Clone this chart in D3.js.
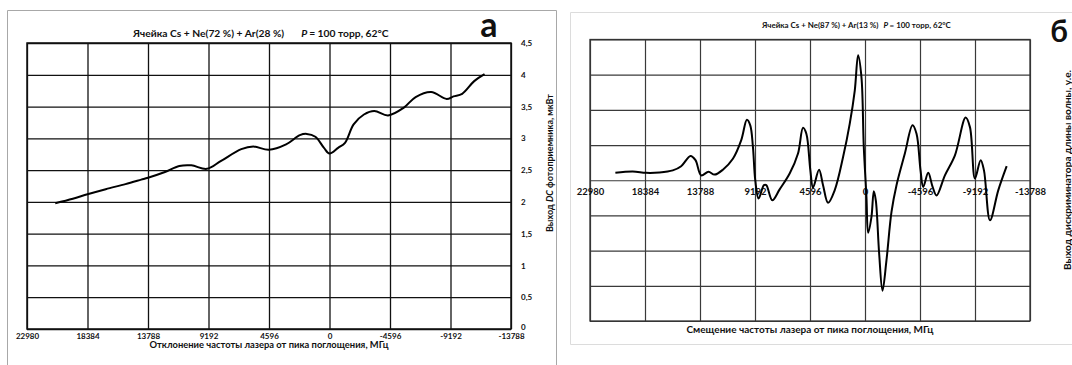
<!DOCTYPE html>
<html><head><meta charset="utf-8">
<script src="https://cdn.jsdelivr.net/npm/d3@7/dist/d3.min.js"></script>
<style>
body{margin:0;background:#fff}
svg{display:block}
text{font-family:Lato,"Open Sans",sans-serif;fill:#111}
</style>
</head><body>
<svg id="c" width="1072" height="365"></svg>
<script>
// ---------- data ----------
const xTickValues = [22980, 18384, 13788, 9192, 4596, 0, -4596, -9192, -13788];
const xTickLabels = ["22980", "18384", "13788", "9192", "4596", "0", "-4596", "-9192", "-13788"];
const yTicksA = [0, 0.5, 1, 1.5, 2, 2.5, 3, 3.5, 4, 4.5];
const yTickLabelsA = ["0", "0,5", "1", "1,5", "2", "2,5", "3", "3,5", "4", "4,5"];
const yGridB = [-4, -3, -2, -1, 0, 1, 2, 3, 4];

// panel а: DC photodetector output, µW
const freqA = [20834, 19500, 18384, 17000, 15500, 14300, 13788, 12500, 11411, 10495, 9318, 8270, 6700, 5784,
  4607, 3298, 2251, 1728, 1073, 419, 0, -654, -1178, -1832, -2617, -3402, -4449, -5627, -6543, -7721,
  -8899, -9422, -10077, -10993, -11778];
const powerA = [1.98, 2.05, 2.12, 2.2, 2.28, 2.35, 2.38, 2.47, 2.565, 2.575, 2.52, 2.64, 2.83, 2.87,
  2.82, 2.905, 3.05, 3.07, 3.025, 2.85, 2.76, 2.85, 2.93, 3.22, 3.375, 3.43, 3.36, 3.48, 3.65, 3.73,
  3.62, 3.66, 3.70, 3.90, 4.01];

// panel б: wavelength discriminator output, arb. units
const freqB = [20860, 19409, 18293, 17177, 16061, 15363, 14582, 14164, 13689, 13075, 12573, 11876, 11039,
  10341, 9867, 9588, 9365, 9170, 8891, 8445, 8250, 7747, 7133, 6296, 5598, 5180, 4901, 4566, 4343, 3841,
  3506, 3087, 2529, 1832, 1274, 855, 576, 297, 102, -121, -261, -540, -735, -903, -1182, -1461, -1795,
  -2214, -2632, -3330, -3971, -4306, -4641, -4864, -5283, -5650, -5980, -6678, -7515, -8408, -8770,
  -9189, -9663, -9942, -10444, -11141, -11839];
const signalB = [0.21, 0.25, 0.21, 0.22, 0.28, 0.40, 0.69, 0.57, 0.14, 0.24, 0.16, 0.30, 0.61,
  1.14, 1.72, 1.56, 0.95, 0.0, -0.52, -0.14, -0.14, -0.57, -0.26, 0.19, 0.76, 1.49, 1.32, 0.28, -0.21, 0.30,
  -0.14, -0.64, -0.28, 0.66, 1.61, 2.55, 3.55, 2.93, 0.95, -0.47, -1.49, -1.04, -0.31, -0.57, -2.08, -3.14, -2.27,
  -0.90, -0.14, 0.76, 1.56, 1.32, 0.28, -0.19, 0.21, -0.19, -0.43, 0.14, 0.71, 1.78, 1.51,
  0.05, 0.57, 0.28, -1.14, -0.28, 0.40];

const titleA1 = "Ячейка Cs + Ne(72 %) + Ar(28 %)";
const titleA2 = "= 100 торр, 62°C";
const titleB1 = "Ячейка Cs + Ne(87 %) + Ar(13 %)";
const titleB2 = "= 100 торр, 62°C";
const xTitleA = "Отклонение частоты лазера от пика поглощения, МГц";
const xTitleB = "Смещение частоты лазера от пика поглощения, МГц";
const yTitleA1 = "Выход ", yTitleA2 = "DC", yTitleA3 = " фотоприемника, мкВт";
const yTitleB = "Выход дискриминатора длины волны, у.е.";

// ---------- drawing ----------
const svg = d3.select("#c");

// two-part title fitted into [x0, x1]
function twoPartTitle(g, x0, x1, y, gap, size, t1, t2) {
  const a = g.append("text").attr("x", x0).attr("y", y).attr("font-weight", 700).attr("font-size", size).text(t1);
  const b = g.append("text").attr("y", y).attr("font-weight", 700).attr("font-size", size);
  b.append("tspan").attr("font-style", "italic").text("P ");
  b.append("tspan").text(t2);
  const total = a.node().getComputedTextLength() + gap + b.node().getComputedTextLength();
  const s = size * (x1 - x0 - gap) / (total - gap);
  a.attr("font-size", s); b.attr("font-size", s);
  b.attr("x", x0 + a.node().getComputedTextLength() + gap);
}

// outer frames
svg.append("path").attr("d", "M7.5,365 V10.5 H556.5 V365").attr("fill", "none").attr("stroke", "#a8a8a8");
svg.append("path").attr("d", "M1072,12.5 H570.5 V344.5 H1072").attr("fill", "none").attr("stroke", "#dcdcdc");

// ===== panel а =====
const A = {l: 27, r: 511, t: 43, b: 329};
const xA = d3.scaleLinear().domain([22980, -13788]).range([A.l, A.r]);
const yA = d3.scaleLinear().domain([0, 4.5]).range([A.b, A.t]);

const gA = svg.append("g");
const axA = gA.append("g").attr("transform", `translate(0,${A.b})`)
  .call(d3.axisBottom(xA).tickValues(xTickValues).tickSize(-(A.b - A.t)).tickPadding(4)
    .tickFormat((d, i) => xTickLabels[i]));
const ayA = gA.append("g").attr("transform", `translate(${A.r},0)`)
  .call(d3.axisRight(yA).tickValues(yTicksA).tickSize(-(A.r - A.l)).tickPadding(10)
    .tickFormat((d, i) => yTickLabelsA[i]));
[axA, ayA].forEach(g => {
  g.select(".domain").remove();
  g.selectAll("line").attr("stroke", "#111").attr("stroke-width", 1.3);
  g.selectAll("text").attr("font-size", 8).attr("font-weight", 700).attr("fill", "#111");
});
ayA.selectAll("text").attr("text-anchor", "start");
ayA.selectAll(".tick").filter(d => d === 0).select("text").attr("dy", "0.1em");
gA.append("rect").attr("x", A.l).attr("y", A.t).attr("width", A.r - A.l).attr("height", A.b - A.t)
  .attr("fill", "none").attr("stroke", "#111").attr("stroke-width", 1.5);

const lineA = d3.line().x((d, i) => xA(freqA[i])).y(d => yA(d)).curve(d3.curveCatmullRom.alpha(0.5));
gA.append("path").attr("d", lineA(powerA)).attr("fill", "none").attr("stroke", "#000").attr("stroke-width", 2);

twoPartTitle(gA, 133, 389, 37, 17, 10.5, titleA1, titleA2);
gA.append("text").attr("x", 489).attr("y", 37).attr("text-anchor", "middle").attr("font-size", 34)
  .attr("font-weight", 700).attr("font-family", "Liberation Sans, Arial, sans-serif").text("а");
gA.append("text").attr("x", (A.l + A.r) / 2).attr("y", 348).attr("text-anchor", "middle")
  .attr("font-size", 9.5).attr("font-weight", 700).attr("textLength", 239).attr("lengthAdjust", "spacingAndGlyphs")
  .text(xTitleA);
const ytA = gA.append("text").attr("transform", "translate(553,163) rotate(-90)").attr("text-anchor", "middle")
  .attr("font-size", 9).attr("font-weight", 700);
ytA.append("tspan").text(yTitleA1);
ytA.append("tspan").attr("font-style", "italic").text(yTitleA2);
ytA.append("tspan").text(yTitleA3);

// ===== panel б =====
const B = {l: 590, r: 1030, t: 39.5, b: 321};
const xB = d3.scaleLinear().domain([22980, -13788]).range([B.l, B.r]);
const yB = d3.scaleLinear().domain([-4, 4]).range([B.b, B.t]);

const gB = svg.append("g");
const gxB = gB.append("g").attr("transform", `translate(0,${B.b})`)
  .call(d3.axisBottom(xB).tickValues(xTickValues).tickSize(-(B.b - B.t)).tickFormat(""));
const gyB = gB.append("g").attr("transform", `translate(${B.l},0)`)
  .call(d3.axisLeft(yB).tickValues(yGridB).tickSize(-(B.r - B.l)).tickFormat(""));
[gxB, gyB].forEach(g => {
  g.select(".domain").remove();
  g.selectAll("line").attr("stroke", "#3a3a3a").attr("stroke-width", 1.2);
});
gB.append("rect").attr("x", B.l).attr("y", B.t).attr("width", B.r - B.l).attr("height", B.b - B.t)
  .attr("fill", "none").attr("stroke", "#333").attr("stroke-width", 1.3);
const zB = gB.append("g").attr("transform", `translate(0,${yB(0)})`)
  .call(d3.axisBottom(xB).tickValues(xTickValues).tickSize(0).tickPadding(8)
    .tickFormat((d, i) => xTickLabels[i]));
zB.select(".domain").remove();
zB.selectAll("text").attr("font-size", 9.5).attr("font-weight", 700).attr("fill", "#111");

const lineB = d3.line().x((d, i) => xB(freqB[i])).y(d => yB(d)).curve(d3.curveCatmullRom.alpha(0.5));
gB.append("path").attr("d", lineB(signalB)).attr("fill", "none").attr("stroke", "#000").attr("stroke-width", 2);

twoPartTitle(gB, 762, 951, 28, 5, 9.2, titleB1, titleB2);
gB.append("text").attr("x", 1059).attr("y", 42).attr("text-anchor", "middle").attr("font-size", 30)
  .attr("font-weight", 700).attr("font-family", "Liberation Sans, Arial, sans-serif").text("б");
gB.append("text").attr("x", (B.l + B.r) / 2).attr("y", 333).attr("text-anchor", "middle")
  .attr("font-size", 9.5).attr("font-weight", 700).attr("textLength", 247).attr("lengthAdjust", "spacingAndGlyphs")
  .text(xTitleB);
gB.append("text").attr("transform", "translate(1071,170) rotate(-90)").attr("text-anchor", "middle")
  .attr("font-size", 8.5).attr("font-weight", 700).attr("textLength", 200).attr("lengthAdjust", "spacingAndGlyphs")
  .text(yTitleB);
</script>
</body></html>
